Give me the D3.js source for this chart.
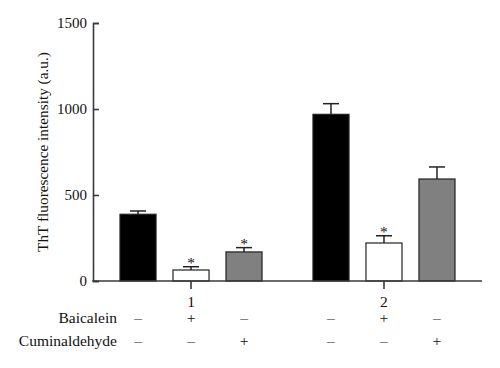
<!DOCTYPE html>
<html>
<head>
<meta charset="utf-8">
<script src="https://cdn.jsdelivr.net/npm/d3@7"></script>
<style>
    body { margin: 0; background: #fff; }
    svg text { font-family: "Liberation Serif", "Times New Roman", serif; fill: #111; }
</style>
</head>
<body>
<svg id="chart" width="500" height="368"></svg>
<script>
// groups on the x axis
var groups = ['1', '2'];

// treatments within each group
var treatments = ['control', 'baicalein', 'cuminaldehyde'];

// bar means (a.u.)
var means = [
    [388, 64, 169],
    [969, 221, 593]
];

// upper error (mean + SD)
var errorTops = [
    [407, 83, 194],
    [1031, 263, 663]
];

// significance markers
var stars = [
    [false, true, true],
    [false, true, false]
];

// sign rows under the axis
var rowLabels = ['Baicalein', 'Cuminaldehyde'];
var rowSigns = [
    ['\u2013', '+', '\u2013'],
    ['\u2013', '\u2013', '+']
];

var yTicks = [0, 500, 1000, 1500];

var fills = { control: '#000', baicalein: '#fff', cuminaldehyde: '#808080' };

var svg = d3.select('#chart');
var axisColor = '#3a3a3a';
var fontFamily = '"Liberation Serif", "Times New Roman", serif';

var y = d3.scaleLinear().domain([0, 1500]).range([281, 23]);

var x0 = d3.scaleBand().domain(groups).range([120, 455]).paddingInner(0.264);
var x1 = d3.scaleBand().domain(treatments).range([0, x0.bandwidth()]).paddingInner(0.32);

// y axis
var yAxis = svg.append('g')
    .attr('transform', 'translate(93,0)')
    .call(d3.axisLeft(y).tickValues(yTicks).tickFormat(d3.format('d')).tickSize(-6).tickPadding(6));
yAxis.select('.domain').attr('stroke', axisColor).attr('stroke-width', 1.6);
yAxis.selectAll('.tick line').attr('stroke', axisColor).attr('stroke-width', 1.6);
yAxis.selectAll('.tick text')
    .attr('font-size', 15)
    .attr('font-family', fontFamily)
    .attr('fill', '#111');

svg.append('text')
    .attr('transform', 'translate(48,152) rotate(-90)')
    .attr('text-anchor', 'middle')
    .attr('font-size', 15.3)
    .text('ThT fluorescence intensity (a.u.)');

// bars
var groupG = svg.selectAll('.group')
    .data(groups)
    .enter().append('g')
    .attr('class', 'group')
    .attr('transform', function(d) { return 'translate(' + x0(d) + ',0)'; });

groupG.each(function(g, gi) {
    var sel = d3.select(this);
    treatments.forEach(function(t, ti) {
        var bx = x1(t), bw = x1.bandwidth(), cx = bx + bw / 2;
        // error bar
        sel.append('line')
            .attr('x1', cx).attr('x2', cx)
            .attr('y1', y(means[gi][ti])).attr('y2', y(errorTops[gi][ti]))
            .attr('stroke', '#222').attr('stroke-width', 1.5);
        sel.append('line')
            .attr('x1', cx - 8).attr('x2', cx + 8)
            .attr('y1', y(errorTops[gi][ti])).attr('y2', y(errorTops[gi][ti]))
            .attr('stroke', '#222').attr('stroke-width', 1.5);
        sel.append('rect')
            .attr('x', bx).attr('width', bw)
            .attr('y', y(means[gi][ti]))
            .attr('height', y(0) - y(means[gi][ti]))
            .attr('fill', fills[t])
            .attr('stroke', '#222').attr('stroke-width', 1.2);
        if (stars[gi][ti]) {
            sel.append('text')
                .attr('x', cx).attr('y', y(errorTops[gi][ti]) + 1)
                .attr('text-anchor', 'middle')
                .attr('font-size', 15.5)
                .text('*');
        }
        rowSigns.forEach(function(row, ri) {
            sel.append('text')
                .attr('x', cx).attr('y', 323 + ri * 23)
                .attr('text-anchor', 'middle')
                .attr('font-size', 15.5)
                .text(row[ti]);
        });
    });
    // group tick and label
    var gc = x1('baicalein') + x1.bandwidth() / 2;
    sel.append('line')
        .attr('x1', gc).attr('x2', gc).attr('y1', 281).attr('y2', 289)
        .attr('stroke', axisColor).attr('stroke-width', 1.6);
    sel.append('text')
        .attr('x', gc).attr('y', 307)
        .attr('text-anchor', 'middle')
        .attr('font-size', 15.5)
        .text(g);
});

// x axis baseline
svg.append('line')
    .attr('x1', 92.2).attr('x2', 482).attr('y1', y(0)).attr('y2', y(0))
    .attr('stroke', axisColor).attr('stroke-width', 1.6);

rowLabels.forEach(function(l, i) {
    svg.append('text')
        .attr('x', 117).attr('y', 323 + i * 23)
        .attr('text-anchor', 'end')
        .attr('font-size', 15.5)
        .text(l);
});
</script>
</body>
</html>
